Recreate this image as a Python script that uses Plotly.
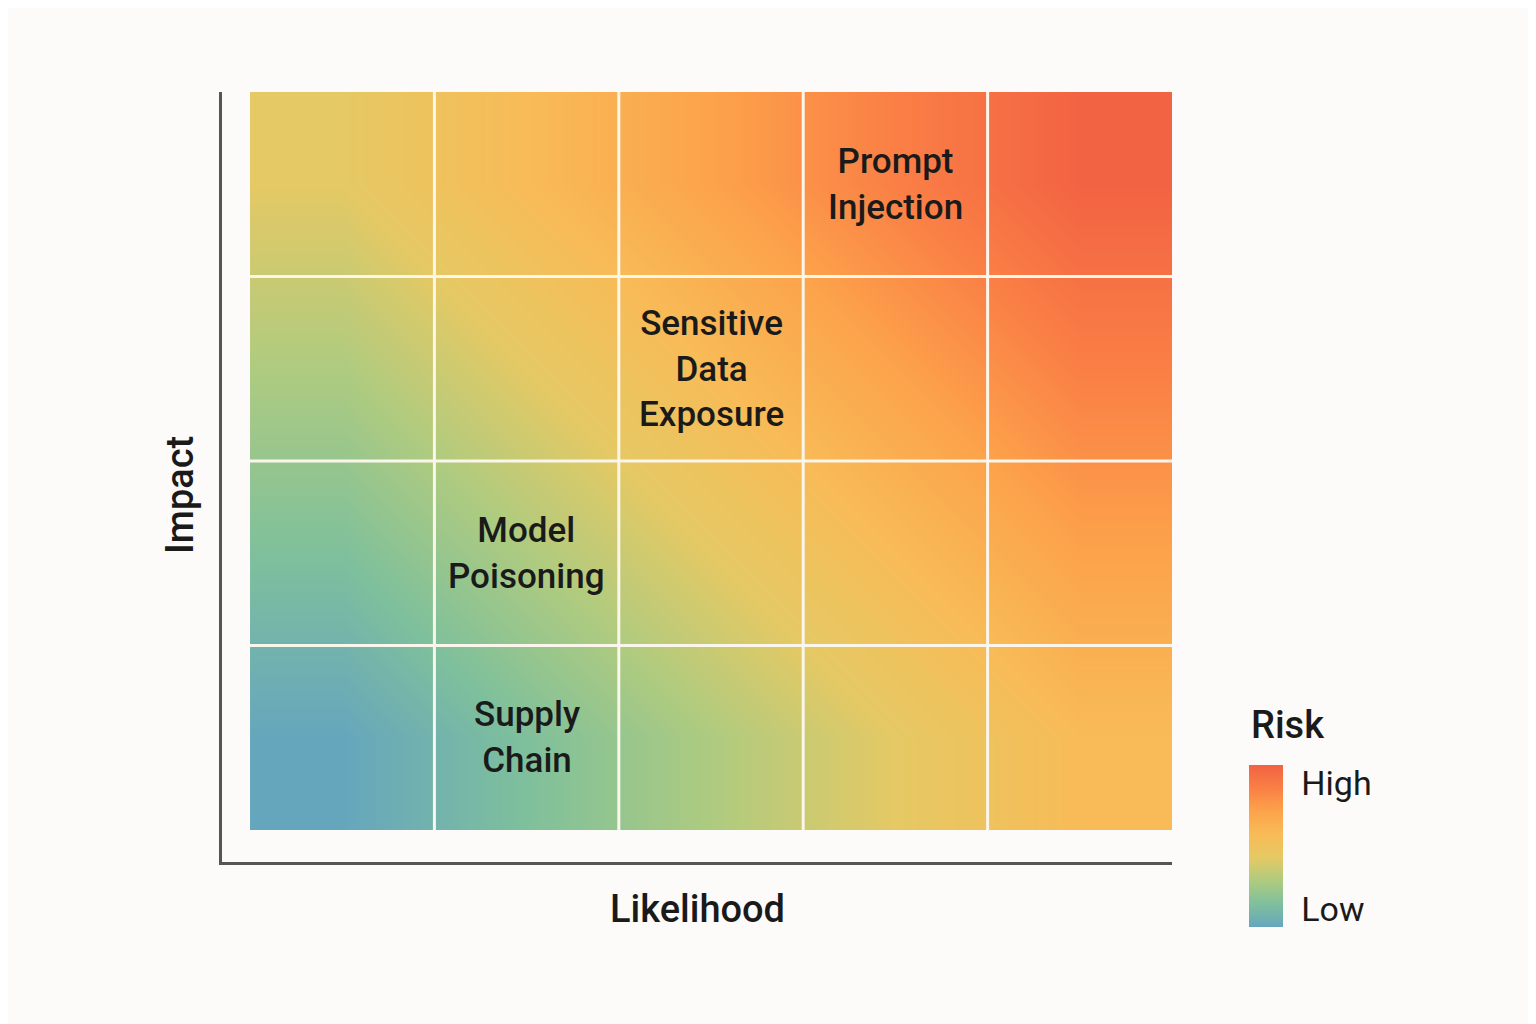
import plotly.graph_objects as go

# ---- data ----
likelihood_levels = [1, 2, 3, 4, 5]
impact_levels = [1, 2, 3, 4]
# risk score per cell (rows = impact 1..4 bottom->top, cols = likelihood 1..5)
risk_scores = [
    [2, 3, 4, 5, 6],
    [3, 4, 5, 6, 7],
    [4, 5, 6, 7, 8],
    [5, 6, 7, 8, 9],
]
risk_names = ["Prompt<br>Injection", "Sensitive<br>Data<br>Exposure", "Model<br>Poisoning", "Supply<br>Chain"]
risk_likelihood = [4, 3, 2, 2]
risk_impact = [4, 3, 2, 1]
legend_labels = ["High", "Low"]
legend_values = [8.22, 2.78]

colorscale = [
    [0.0, "#66a6bd"],
    [1 / 7, "#7fc09c"],
    [2 / 7, "#aecb80"],
    [3 / 7, "#e5c964"],
    [4 / 7, "#f8bb57"],
    [5 / 7, "#fca34b"],
    [6 / 7, "#fa7f45"],
    [1.0, "#f26343"],
]

BG = "#fcfbf9"
TXT = "#1a1a1a"
FONT = "Roboto"

fig = go.Figure()
fig.add_trace(go.Heatmap(
    z=risk_scores,
    x=[v - 1 for v in likelihood_levels],
    y=[v - 1 for v in impact_levels],
    zsmooth="best",
    colorscale=colorscale,
    zmin=2, zmax=9,
    hoverinfo="skip",
    colorbar=dict(
        tickvals=legend_values,
        ticktext=legend_labels,
        ticks="outside",
        ticklen=12,
        tickcolor="rgba(0,0,0,0)",
        tickfont=dict(size=34, color=TXT, family=FONT),
        thickness=34,
        thicknessmode="pixels",
        len=162,
        lenmode="pixels",
        x=1.081, xanchor="left",
        y=0.0208, yanchor="middle",
        xpad=0, ypad=0,
        outlinewidth=0,
    ),
))

nx = len(likelihood_levels)
ny = len(impact_levels)
# white cell separators at category boundaries
for i in range(1, nx):
    fig.add_shape(type="line", xref="x", yref="y", x0=i - 0.5, x1=i - 0.5, y0=-0.5, y1=ny - 0.5,
                  line=dict(color="#fbf6ec", width=3))
for j in range(1, ny):
    fig.add_shape(type="line", xref="x", yref="y", x0=-0.5, x1=nx - 0.5, y0=j - 0.5, y1=j - 0.5,
                  line=dict(color="#fbf6ec", width=3))

for name, lx, iy in zip(risk_names, risk_likelihood, risk_impact):
    fig.add_annotation(x=lx - 1, y=iy - 1, xref="x", yref="y", text=name, showarrow=False,
                       font=dict(size=35, color=TXT, family=FONT, weight=500))

fig.add_annotation(x=0.5, y=-0.061, xref="paper", yref="paper", text="Likelihood", showarrow=False,
                   xanchor="center", yanchor="middle", font=dict(size=38, color=TXT, family=FONT, weight=500))
fig.add_annotation(x=-0.045, y=0.477, xref="paper", yref="paper", text="Impact", showarrow=False,
                   textangle=-90, xanchor="center", yanchor="middle",
                   font=dict(size=38, color=TXT, family=FONT, weight=500))
fig.add_annotation(x=1.081, y=0.178, xref="paper", yref="paper", text="Risk", showarrow=False,
                   xanchor="left", yanchor="middle", font=dict(size=38, color=TXT, family=FONT, weight=500))

fig.update_xaxes(range=[-0.652, nx - 0.5], showticklabels=False, ticks="", showgrid=False,
                 zeroline=False, showline=True, linecolor="#555555", linewidth=2.5, fixedrange=True)
fig.update_yaxes(range=[-0.673, ny - 0.5], showticklabels=False, ticks="", showgrid=False,
                 zeroline=False, showline=True, linecolor="#555555", linewidth=2.5, fixedrange=True)

fig.update_layout(
    width=1528, height=1016,
    margin=dict(l=214, r=364, t=84, b=162),
    paper_bgcolor=BG, plot_bgcolor=BG,
    font=dict(family=FONT, color=TXT),
    showlegend=False,
)

fig.write_html("out.html", config={"displayModeBar": False})
